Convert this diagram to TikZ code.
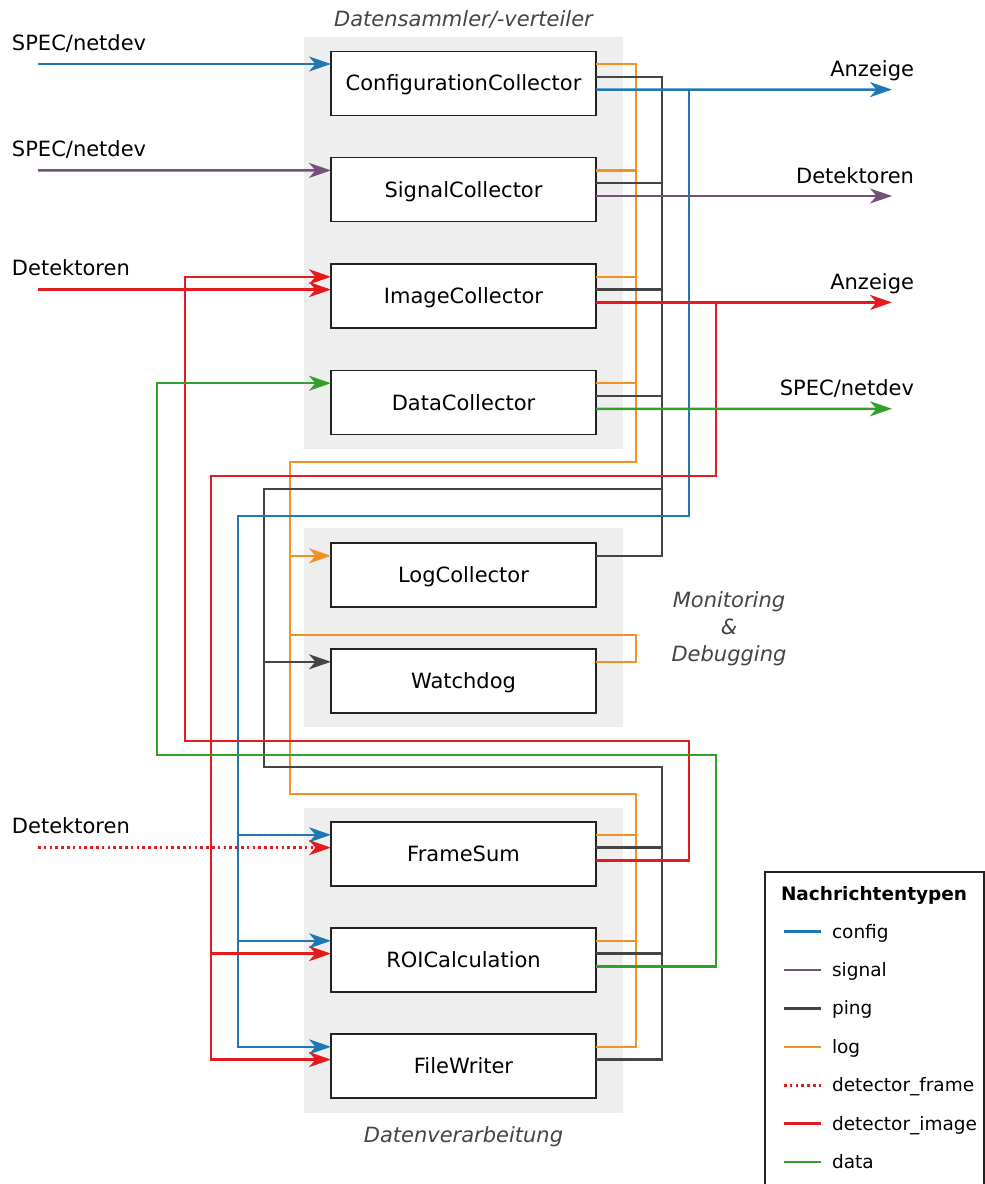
\documentclass[tikz,border=0pt]{standalone}
\usepackage{fontspec}
\setmainfont{DejaVu Sans}
\usetikzlibrary{arrows.meta}
\definecolor{cCfg}{RGB}{31,119,180}
\definecolor{cSig}{RGB}{117,80,123}
\definecolor{cPing}{RGB}{68,68,68}
\definecolor{cLog}{RGB}{242,146,38}
\definecolor{cRed}{RGB}{228,26,28}
\definecolor{cData}{RGB}{51,160,44}
\definecolor{cBg}{RGB}{238,238,238}
\definecolor{cBox}{RGB}{34,34,34}
\definecolor{cGrp}{RGB}{68,68,68}
\newcommand\fsmain{\fontsize{21}{27}\selectfont}
\newcommand\fslegend{\fontsize{18.5}{22}\selectfont}
\begin{document}
\begin{tikzpicture}[x=1pt,y=-1pt,
  every node/.style={inner sep=0pt,outer sep=0pt},
  module/.style={draw=cBox,line width=1.4pt,fill=white,minimum width=265pt,minimum height=64pt,font=\fsmain,text height=15.3pt,text depth=0pt},
  bggroup/.style={fill=cBg,anchor=north west},
  grplabel/.style={font=\fsmain\itshape,text=cGrp,align=center},
  extlabel/.style={font=\fsmain},
  wire/.style={line width=2.5pt,line join=miter},
  wCfg/.style={wire,draw=cCfg},
  wSig/.style={wire,draw=cSig},
  wPing/.style={wire,draw=cPing},
  wLog/.style={wire,draw=cLog},
  wImg/.style={wire,draw=cRed},
  wFrame/.style={wire,draw=cRed,dash pattern=on 2.6pt off 3.2pt},
  wData/.style={wire,draw=cData},
  arr/.style={-{Stealth[length=22pt,width=15pt,inset=6.5pt]}}
]
\useasboundingbox (0,0) rectangle (985,1184);

% group backgrounds
\node[bggroup,minimum width=319pt,minimum height=412pt] (grpA) at (304,37) {};
\node[bggroup,minimum width=319pt,minimum height=199pt] (grpB) at (304,528) {};
\node[bggroup,minimum width=319pt,minimum height=305pt] (grpC) at (304,808) {};

\node[grplabel,anchor=base] (grpAlab) at (463.5,26) {Datensammler/-verteiler};
\node[grplabel,anchor=base] (grpClab) at (463.5,1142) {Datenverarbeitung};
\node[grplabel,anchor=base] (grpBlab1) at (729,607) {Monitoring};
\node[grplabel,anchor=base] (grpBlab2) at (729,634) {\&};
\node[grplabel,anchor=base] (grpBlab3) at (729,661) {Debugging};

% modules
\node[module] (cfg) at (463.5,83.2) {ConfigurationCollector};
\node[module] (sig) at (463.5,189.6) {SignalCollector};
\node[module] (img) at (463.5,296) {ImageCollector};
\node[module] (dat) at (463.5,402.4) {DataCollector};
\node[module] (log) at (463.5,575) {LogCollector};
\node[module] (wd) at (463.5,681) {Watchdog};
\node[module] (fs) at (463.5,854) {FrameSum};
\node[module] (roi) at (463.5,960) {ROICalculation};
\node[module] (fw) at (463.5,1066) {FileWriter};

\foreach \n in {cfg,sig,img,dat,log,wd,fs,roi,fw}{
  \coordinate (\n-l1) at ([yshift=-12.8pt]\n.north west);
  \coordinate (\n-l2) at ([yshift=-25.6pt]\n.north west);
  \coordinate (\n-r1) at ([yshift=-12.8pt]\n.north east);
  \coordinate (\n-r2) at ([yshift=-25.6pt]\n.north east);
  \coordinate (\n-r3) at ([yshift=-38.4pt]\n.north east);
}

% lanes
\coordinate (LG) at (157,0);
\coordinate (LRa) at (185,0);
\coordinate (LRb) at (211,0);
\coordinate (LB) at (238,0);
\coordinate (LP) at (264,0);
\coordinate (LO) at (290,0);
\coordinate (RO) at (636,0);
\coordinate (RP) at (662,0);
\coordinate (RB) at (689,0);
\coordinate (RR) at (716,0);

% external ends
\coordinate (inCfg) at (38,64);
\coordinate (inSig) at (38,170.4);
\coordinate (inImg) at (38,289.6);
\coordinate (inFrame) at (38,847.6);
\coordinate (outCfg) at (892,89.6);
\coordinate (outSig) at (892,196);
\coordinate (outImg) at (892,302.4);
\coordinate (outDat) at (892,408.8);

\node[extlabel,anchor=base west] (labInCfg) at (12,50) {SPEC/netdev};
\node[extlabel,anchor=base west] (labInSig) at (12,156.4) {SPEC/netdev};
\node[extlabel,anchor=base west] (labInImg) at (12,275.6) {Detektoren};
\node[extlabel,anchor=base west] (labInFrame) at (12,833.6) {Detektoren};
\node[extlabel,anchor=base east] (labOutCfg) at (914,76.6) {Anzeige};
\node[extlabel,anchor=base east] (labOutSig) at (914,183) {Detektoren};
\node[extlabel,anchor=base east] (labOutImg) at (914,289.4) {Anzeige};
\node[extlabel,anchor=base east] (labOutDat) at (914,395.8) {SPEC/netdev};

% log (orange)
\draw[wLog] (cfg-r1) -- (RO |- cfg-r1) -- (636,462) -- (290,462) -- (290,794) -- (636,794) |- (fw-r1);
\draw[wLog] (sig-r1) -- (RO |- sig-r1);
\draw[wLog] (img-r1) -- (RO |- img-r1);
\draw[wLog] (dat-r1) -- (RO |- dat-r1);
\draw[wLog] (fs-r1) -- (RO |- fs-r1);
\draw[wLog] (roi-r1) -- (RO |- roi-r1);
\draw[wLog] (wd-r1) -- (RO |- wd-r1) -- (636,635) -- (290,635);
\draw[wLog,arr] (LO |- log-l1) -- (log-l1);

% ping (gray)
\draw[wPing] (cfg-r2) -- (RP |- cfg-r2) -- (RP |- log-r1) -- (log-r1);
\draw[wPing] (sig-r2) -- (RP |- sig-r2);
\draw[wPing] (img-r2) -- (RP |- img-r2);
\draw[wPing] (dat-r2) -- (RP |- dat-r2);
\draw[wPing] (662,489) -- (264,489) -- (264,767) -- (662,767) |- (fw-r2);
\draw[wPing] (fs-r2) -- (RP |- fs-r2);
\draw[wPing] (roi-r2) -- (RP |- roi-r2);
\draw[wPing,arr] (LP |- wd-l1) -- (wd-l1);

% config (blue)
\draw[wCfg,arr] (inCfg) -- (cfg-l1);
\draw[wCfg,arr] (cfg-r3) -- (outCfg);
\draw[wCfg,arr] (RB |- cfg-r3) -- (689,516) -- (238,516) |- (fw-l1);
\draw[wCfg,arr] (LB |- fs-l1) -- (fs-l1);
\draw[wCfg,arr] (LB |- roi-l1) -- (roi-l1);

% signal (purple)
\draw[wSig,arr] (inSig) -- (sig-l1);
\draw[wSig,arr] (sig-r3) -- (outSig);

% detector_image (red)
\draw[wImg,arr] (inImg) -- (img-l2);
\draw[wImg,arr] (img-r3) -- (outImg);
\draw[wImg,arr] (RR |- img-r3) -- (716,476) -- (211,476) |- (fw-l2);
\draw[wImg,arr] (LRb |- roi-l2) -- (roi-l2);
\draw[wImg,arr] (fs-r3) -- (RB |- fs-r3) -- (689,741) -- (185,741) |- (img-l1);

% detector_frame (red dotted)
\draw[wFrame,arr] (inFrame) -- (fs-l2);

% data (green)
\draw[wData,arr] (dat-r3) -- (outDat);
\draw[wData,arr] (roi-r3) -- (RR |- roi-r3) -- (716,755) -- (157,755) |- (dat-l1);

% legend
\node[draw=cBox,line width=1.4pt,fill=white,anchor=north west,minimum width=219pt,minimum height=330pt] (legend) at (765,872) {};
\node[font=\fslegend\bfseries,anchor=base west] (legTitle) at (781,900.7) {Nachrichtentypen};
\foreach \k/\sty/\txt in {0/wCfg/config,1/wSig/signal,2/wPing/ping,3/wLog/log,4/wFrame/detector\_frame,5/wImg/detector\_image,6/wData/data}{
  \draw[\sty] (784,931.7+38.4*\k) -- (821,931.7+38.4*\k);
  \node[font=\fslegend,anchor=base west] (leg\k) at (832,938+38.4*\k) {\txt};
}
\end{tikzpicture}
\end{document}
